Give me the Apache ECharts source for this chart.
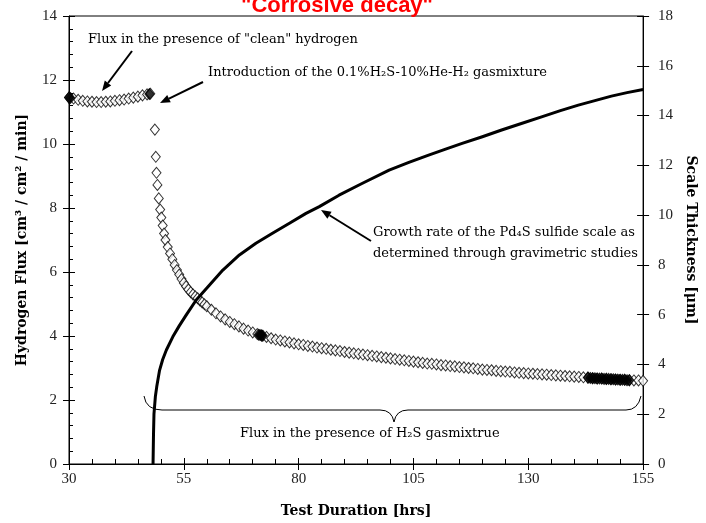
<!DOCTYPE html>
<html>
<head>
<meta charset="utf-8">
<script src="https://cdn.jsdelivr.net/npm/echarts/dist/echarts.min.js"></script>
<style>
  html, body { margin: 0; padding: 0; background: #fff; }
  #main { width: 706px; height: 523px; }
</style>
</head>
<body>
<div id="main"></div>
<script>
// flux before and after the H2S switch (hrs, cm3/cm2/min)
const fluxTime = [30, 31, 32, 33, 34, 35, 36, 37, 38, 39, 40, 41, 42, 43, 44, 45, 46, 47, 47.7,
  48.7, 48.9, 49.05, 49.25, 49.55, 49.85, 50.1, 50.4, 50.7, 51, 51.5, 52, 52.5, 53, 53.5, 54, 54.5,
  55, 55.5, 56, 56.5, 57, 57.5, 58, 58.5, 59, 59.5, 60, 61, 62, 63, 64, 65, 66, 67, 68, 69, 70,
  71, 72, 73, 74, 75, 76, 77, 78, 79, 80, 81, 82, 83, 84, 85, 86, 87, 88, 89, 90,
  91, 92, 93, 94, 95, 96, 97, 98, 99, 100, 101, 102, 103, 104, 105, 106, 107, 108, 109, 110,
  111, 112, 113, 114, 115, 116, 117, 118, 119, 120, 121, 122, 123, 124, 125, 126, 127, 128, 129, 130,
  131, 132, 133, 134, 135, 136, 137, 138, 139, 140, 141, 142, 143, 144, 145, 146, 147, 148, 149, 150,
  151, 152, 153, 154, 155];
const fluxValue = [11.45, 11.42, 11.38, 11.35, 11.33, 11.32, 11.31, 11.31, 11.32, 11.33, 11.35, 11.37, 11.39, 11.42, 11.45, 11.48, 11.52, 11.55, 11.57,
  10.45, 9.6, 9.1, 8.72, 8.3, 7.95, 7.7, 7.45, 7.2, 7.0, 6.78, 6.58, 6.4, 6.22, 6.06, 5.92, 5.78,
  5.66, 5.55, 5.45, 5.37, 5.3, 5.24, 5.18, 5.11, 5.05, 4.99, 4.93, 4.82, 4.71, 4.61, 4.52, 4.44, 4.37, 4.30, 4.23, 4.17, 4.11,
  4.06, 4.01, 3.97, 3.93, 3.89, 3.86, 3.83, 3.80, 3.77, 3.74, 3.72, 3.69, 3.67, 3.64, 3.62, 3.60, 3.57, 3.55, 3.53, 3.50,
  3.48, 3.46, 3.44, 3.42, 3.40, 3.38, 3.36, 3.34, 3.32, 3.30, 3.28, 3.26, 3.24, 3.22, 3.20, 3.18, 3.16, 3.14, 3.13, 3.11,
  3.09, 3.08, 3.06, 3.05, 3.03, 3.02, 3.00, 2.99, 2.97, 2.95, 2.94, 2.93, 2.91, 2.90, 2.89, 2.88, 2.86, 2.85, 2.84, 2.83,
  2.82, 2.81, 2.80, 2.79, 2.78, 2.77, 2.76, 2.75, 2.74, 2.73, 2.72, 2.71, 2.70, 2.68, 2.67, 2.67, 2.66, 2.65, 2.64, 2.63,
  2.63, 2.62, 2.61, 2.61, 2.60];

// spots where the recorded points pile up into solid black
const denseTime = [30, 30.3, 47.5, 71.3, 71.6, 71.9, 72.2,
  143, 143.5, 144, 144.5, 145, 145.5, 146, 146.5, 147, 147.5, 148, 148.5, 149, 149.5, 150, 150.5, 151, 151.5, 152];
const denseValue = [11.45, 11.44, 11.56, 4.04, 4.03, 4.02, 4.01,
  2.70, 2.69, 2.68, 2.68, 2.67, 2.67, 2.67, 2.66, 2.66, 2.66, 2.65, 2.65, 2.64, 2.64, 2.63, 2.63, 2.63, 2.62, 2.62];

// Pd4S scale thickness (hrs, um)
const scaleTime = [48.3, 48.4, 48.5, 48.8, 49.1, 49.7, 50.4, 51.2, 52.6, 54.0, 55.5, 57.7, 60.6, 63.5, 67.1,
  70.7, 74.3, 78.0, 81.6, 84.5, 88.8, 93.9, 99.7, 104, 108.3, 112, 115.6, 120, 124.2, 128.5, 132.9,
  137, 140.9, 144.5, 148.1, 151.5, 155];
const scaleValue = [0, 1.2, 2.0, 2.7, 3.1, 3.75, 4.2, 4.58, 5.11, 5.55, 5.98, 6.59, 7.19, 7.79, 8.40,
  8.87, 9.27, 9.67, 10.07, 10.34, 10.80, 11.28, 11.81, 12.12, 12.41, 12.65, 12.88, 13.15, 13.42, 13.68, 13.95,
  14.2, 14.42, 14.6, 14.78, 14.92, 15.05];

const xTicks = [30, 55, 80, 105, 130, 155];
const leftTicks = [0, 2, 4, 6, 8, 10, 12, 14];
const rightTicks = [0, 2, 4, 6, 8, 10, 12, 14, 16, 18];

const serif = "'Liberation Serif', 'DejaVu Serif', serif";
const wide = "'DejaVu Serif', serif";
const tickFont = { fontFamily: serif, fontSize: 15, color: '#222' };
const nameFont = { fontFamily: wide, fontSize: 14, fontWeight: 'bold', color: '#000' };
const black = { color: '#000', width: 1 };

function arrow(x1, y1, x2, y2) {
  const a = Math.atan2(y2 - y1, x2 - x1), L = 10, W = 4;
  const bx = x2 - L * Math.cos(a), by = y2 - L * Math.sin(a);
  return [
    { type: 'line', shape: { x1: x1, y1: y1, x2: bx, y2: by }, style: { stroke: '#000', lineWidth: 2 } },
    { type: 'polygon', shape: { points: [[x2, y2], [bx - W * Math.sin(a), by + W * Math.cos(a)], [bx + W * Math.sin(a), by - W * Math.cos(a)]] },
      style: { fill: '#000' } }
  ];
}
function note(x, y, text, align) {
  return { type: 'text', x: x, y: y,
    style: { text: text, fontFamily: wide, fontSize: 13, fill: '#000', align: align || 'left', verticalAlign: 'middle' } };
}
const thin = { stroke: '#000', lineWidth: 1, fill: null };
function curve(x1, y1, cx, cy, x2, y2) {
  return { type: 'bezierCurve', shape: { x1: x1, y1: y1, cpx1: cx, cpy1: cy, x2: x2, y2: y2 }, style: thin };
}
function seg(x1, y1, x2, y2) {
  return { type: 'line', shape: { x1: x1, y1: y1, x2: x2, y2: y2 }, style: thin };
}

const chart = echarts.init(document.getElementById('main'));
chart.setOption({
  animation: false,
  backgroundColor: '#fff',
  grid: { left: 69, right: 61, top: 16, bottom: 59, show: true, borderColor: '#000', borderWidth: 1 },
  xAxis: [
    { type: 'value', min: xTicks[0], max: xTicks[xTicks.length - 1], interval: 25, position: 'bottom',
      axisLine: { lineStyle: black }, axisTick: { length: 6, lineStyle: black },
      axisLabel: Object.assign({ margin: 8 }, tickFont), splitLine: { show: false },
      name: 'Test Duration [hrs]', nameLocation: 'middle', nameGap: 40, nameTextStyle: nameFont },
    { type: 'value', min: xTicks[0], max: xTicks[xTicks.length - 1], interval: 25, position: 'bottom',
      axisLine: { show: false }, axisLabel: { show: false }, splitLine: { show: false },
      axisTick: { inside: true, length: 6, lineStyle: black },
      minorTick: { show: true, splitNumber: 5, length: 5, lineStyle: black } }
  ],
  yAxis: [
    { type: 'value', min: leftTicks[0], max: leftTicks[leftTicks.length - 1], interval: 2, position: 'left',
      axisLine: { show: true, lineStyle: black }, axisTick: { show: true, length: 6, lineStyle: black },
      axisLabel: Object.assign({ margin: 12 }, tickFont), splitLine: { show: false },
      name: 'Hydrogen Flux [cm³ / cm² / min]', nameLocation: 'middle', nameGap: 40, nameTextStyle: nameFont },
    { type: 'value', min: rightTicks[0], max: rightTicks[rightTicks.length - 1], interval: 2, position: 'right',
      axisLine: { show: true, lineStyle: black }, axisTick: { show: true, length: 6, lineStyle: black },
      axisLabel: Object.assign({ margin: 15 }, tickFont), splitLine: { show: false },
      name: 'Scale Thickness [μm]', nameLocation: 'middle', nameGap: 38, nameRotate: -90, nameTextStyle: nameFont },
    { type: 'value', min: 0, max: 14, interval: 2, position: 'left',
      axisLine: { show: false }, axisLabel: { show: false }, splitLine: { show: false },
      axisTick: { show: true, inside: true, length: 6, lineStyle: black },
      minorTick: { show: true, splitNumber: 5, length: 4, lineStyle: black } },
    { type: 'value', min: 0, max: 18, interval: 2, position: 'right',
      axisLine: { show: false }, axisLabel: { show: false }, splitLine: { show: false },
      axisTick: { show: true, inside: true, length: 6, lineStyle: black } }
  ],
  series: [
    { type: 'scatter', xAxisIndex: 0, yAxisIndex: 0, symbol: 'diamond', symbolSize: [9, 11],
      itemStyle: { color: '#fff', borderColor: '#000', borderWidth: 1 },
      data: fluxTime.map((t, i) => [t, fluxValue[i]]) },
    { type: 'scatter', xAxisIndex: 0, yAxisIndex: 0, symbol: 'diamond', symbolSize: [9, 11],
      itemStyle: { color: '#000', borderColor: '#000', borderWidth: 1 },
      data: denseTime.map((t, i) => [t, denseValue[i]]) },
    { type: 'line', xAxisIndex: 0, yAxisIndex: 1, showSymbol: false, z: 5,
      lineStyle: { color: '#000', width: 3, join: 'round' },
      data: scaleTime.map((t, i) => [t, scaleValue[i]]) }
  ],
  graphic: [
    { type: 'text', x: 337, y: 17, z: 100,
      style: { text: '"Corrosive decay"', fontFamily: "'Liberation Sans', Arial, sans-serif", fontSize: 22, fontWeight: 'bold',
        fill: '#ff0000', align: 'center', verticalAlign: 'bottom' } },
    note(88, 40, 'Flux in the presence of "clean" hydrogen'),
    ...arrow(132, 51, 102, 91),
    note(208, 73, 'Introduction of the 0.1%H₂S-10%He-H₂ gasmixture'),
    ...arrow(203, 82, 160, 103),
    note(373, 233, 'Growth rate of the Pd₄S sulfide scale as'),
    note(373, 254, 'determined through gravimetric studies'),
    ...arrow(371, 241, 321, 210),
    curve(144, 396, 146, 410, 162, 410),
    seg(162, 410, 380, 410),
    curve(380, 410, 392, 410, 394, 422),
    curve(394, 422, 396, 410, 408, 410),
    seg(408, 410, 626, 410),
    curve(626, 410, 638, 410, 641, 396),
    note(240, 434, 'Flux in the presence of H₂S gasmixtrue')
  ]
});
</script>
</body>
</html>
